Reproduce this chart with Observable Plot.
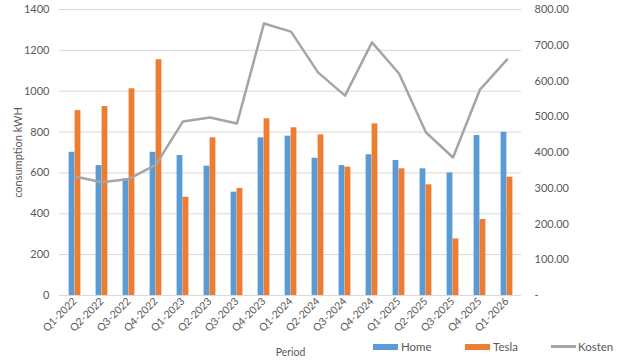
<!DOCTYPE html>
<html>
<head>
<meta charset="utf-8">
<script src="https://cdn.jsdelivr.net/npm/d3@7"></script>
<script src="https://cdn.jsdelivr.net/npm/@observablehq/plot@0.6"></script>
<style>
  html, body { margin: 0; padding: 0; background: #fff; }
  #wrap { position: relative; width: 640px; height: 364px; font-family: Lato, "Open Sans", sans-serif; }
  #legend { position: absolute; top: 340px; left: 373px; display: flex; align-items: center; font-size: 11.5px; color: #595959; }
  .item { display: flex; align-items: center; margin-right: 0; }
  .sw { display: inline-block; width: 25px; height: 6px; margin-right: 3px; }
  .ln { display: inline-block; width: 25px; height: 2.5px; margin-right: 2px; background: #a5a5a5; }
</style>
</head>
<body>
<div id="wrap"><div id="legend"></div></div>
<script>
const periods = ["Q1-2022","Q2-2022","Q3-2022","Q4-2022","Q1-2023","Q2-2023","Q3-2023","Q4-2023","Q1-2024","Q2-2024","Q3-2024","Q4-2024","Q1-2025","Q2-2025","Q3-2025","Q4-2025","Q1-2026"];
const home  = [701, 636, 571, 701, 685, 633, 506, 772, 780, 672, 636, 689, 661, 620, 600, 783, 799];
const tesla = [905, 925, 1012, 1154, 481, 772, 524, 865, 821, 786, 628, 840, 620, 542, 277, 372, 579];
const kosten = [333, 317, 326, 366, 487, 498, 481, 761, 738, 624, 559, 708, 621, 456, 386, 576, 660];
const leftTicks = [0, 200, 400, 600, 800, 1000, 1200, 1400];
const rightTicks = [0, 100, 200, 300, 400, 500, 600, 700, 800];
const seriesNames = ["Home", "Tesla", "Kosten"];
const colors = ["#5b9bd5", "#ed7d31", "#a5a5a5"];

const ratio = 1400 / 800; // right axis mapped onto left scale

const homeData = periods.map((p, i) => ({period: p, value: home[i]}));
const teslaData = periods.map((p, i) => ({period: p, value: tesla[i]}));
const kostenData = periods.map((p, i) => ({period: p, value: kosten[i] * ratio}));

const band = (640 - 59 - 119) / periods.length;
const half = band / 2;
const bw = 6;

const chart = Plot.plot({
  width: 640,
  height: 364,
  marginLeft: 59,
  marginRight: 119,
  marginTop: 9,
  marginBottom: 69,
  style: {fontFamily: "Lato, 'Open Sans', sans-serif", fontSize: "11px", color: "#595959", background: "#fff"},
  x: {type: "band", domain: periods, padding: 0},
  y: {domain: [0, 1400]},
  marks: [
    Plot.gridY(leftTicks, {stroke: "#d9d9d9", strokeOpacity: 1}),
    Plot.barY(homeData, {x: "period", y: "value", fill: colors[0], insetLeft: half - bw, insetRight: half}),
    Plot.barY(teslaData, {x: "period", y: "value", fill: colors[1], insetLeft: half, insetRight: half - bw}),
    Plot.ruleY([0], {stroke: "#d9d9d9"}),
    Plot.line(kostenData, {x: "period", y: "value", stroke: colors[2], strokeWidth: 2.5}),
    Plot.axisY(leftTicks, {anchor: "left", tickSize: 0, tickPadding: 10, tickFormat: d => String(d), label: "consumption kWH", labelAnchor: "center", labelOffset: 45, labelArrow: false, fontSize: 11}),
    Plot.axisY(rightTicks.map(v => v * ratio), {anchor: "right", tickSize: 0, tickPadding: 13, textAnchor: "start", tickFormat: v => v === 0 ? "-" : (v / ratio).toFixed(2), label: null, fontSize: 11}),
    Plot.axisX({tickSize: 0, tickRotate: -45, tickPadding: 4, label: "Period", labelAnchor: "center", labelOffset: 60, labelArrow: false, fontSize: 10.5})
  ]
});
document.getElementById("wrap").prepend(chart);

const legend = document.getElementById("legend");
const gaps = [92, 86, 0];
seriesNames.forEach((name, i) => {
  const item = document.createElement("div");
  item.className = "item";
  const sw = document.createElement("span");
  sw.className = i === 2 ? "ln" : "sw";
  if (i < 2) sw.style.background = colors[i];
  item.appendChild(sw);
  const t = document.createElement("span");
  t.textContent = name;
  item.appendChild(t);
  item.style.width = gaps[i] ? gaps[i] + "px" : "auto";
  legend.appendChild(item);
});
</script>
</body>
</html>
